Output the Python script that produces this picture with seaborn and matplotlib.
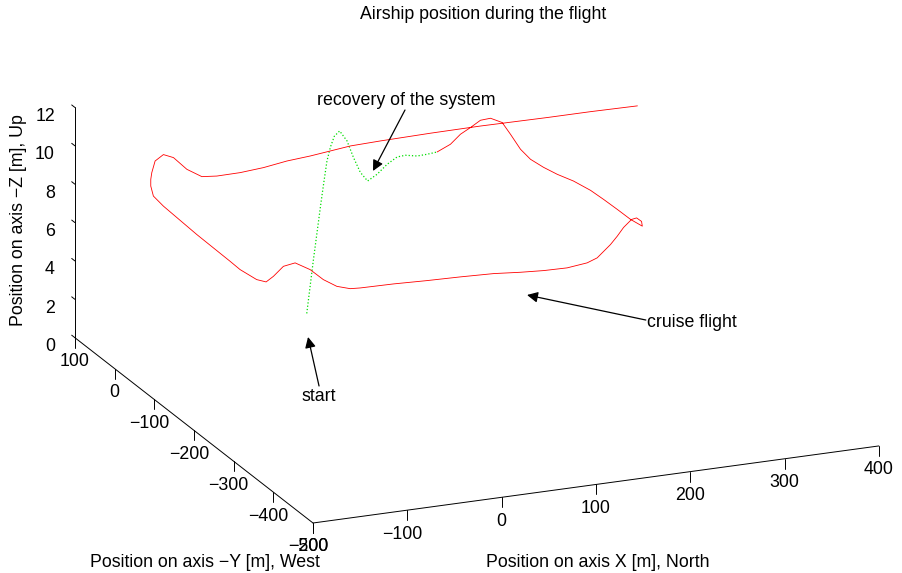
import numpy as np
import matplotlib
matplotlib.use("Agg")
import matplotlib.pyplot as plt
import seaborn as sns
from mpl_toolkits.mplot3d import proj3d

###############################################################################
### Trajectory: x North [m], y [m], z up [m]
# start + recovery of the system (green)
green_x = [4.0, 8.6, 16.7, 17.6, 21.0, 24.4, 28.5, 33.9, 40.1, 44.7,
           49.1, 54.5, 64.1, 73.7, 82.3, 89.5, 99.3, 108.0, 117.5]
green_y = [0.5, -5.0, -5.3, -9.5, -10.0, -10.5, -10.7, -11.3, -15.2, -20.3,
           -27.2, -32.8, -33.8, -36.4, -41.1, -44.8, -51.2, -55.5, -58.2]
green_z = [1.5, 4.3, 7.3, 8.3, 9.5, 10.2, 10.75, 11.0, 10.5, 9.7,
           9.0, 8.6, 8.9, 9.4, 9.8, 9.9, 9.9, 10.0, 10.1]

# cruise flight (red)
red_x = [117.5, 129.6, 139.1, 149.2, 157.8, 167.0, 177.0, 182.0, 187.0, 193.3,
         200.2, 206.7, 215.8, 222.6, 226.1, 229.1, 231.7, 236.7, 241.5, 241.1,
         234.8, 220.5, 206.9, 193.4, 168.1, 153.3, 129.4, 105.1, 82.1, 56.4,
         22.5, -11.9, -45.9, -80.7, -90.5, -102.1, -110.9, -117.9, -128.1, -138.2,
         -147.7, -154.1, -159.9, -163.3, -162.7, -161.7, -158.9, -158.5, -153.7, -152.6,
         -150.6, -143.0, -132.5, -124.7, -117.3, -107.8, -93.6, -68.6, -43.9, -19.6,
         5.1, 26.8, 48.4, 80.2, 133.3, 186.8, 258.0, 304.4, 354.4]
red_y = [-58.2, -63.1, -65.7, -66.9, -71.7, -75.2, -80.8, -89.8, -103.2, -113.4,
         -129.8, -149.0, -168.4, -195.1, -219.6, -247.1, -274.4, -292.0, -278.7, -267.2,
         -269.5, -283.3, -299.7, -314.8, -341.3, -351.3, -357.6, -356.3, -352.2, -345.8,
         -342.4, -340.1, -336.7, -335.3, -333.5, -327.4, -314.4, -297.7, -284.1, -278.6,
         -276.0, -272.8, -262.9, -229.0, -202.3, -116.1, -25.3, 0.8, 18.8, 21.4,
         23.6, 33.3, 37.3, 30.5, 14.3, -0.9, -4.9, -4.2, -4.4, -5.6,
         -5.8, -4.8, -3.8, -3.9, -4.0, -3.0, -2.0, -1.0, 0.0]
red_z = [10.1, 10.5, 11.0, 11.3, 11.7, 11.8, 11.6, 11.1, 10.5, 10.1,
         9.9, 9.8, 9.7, 9.6, 9.5, 9.4, 9.3, 9.2, 9.2, 9.2,
         9.2, 9.1, 9.0, 8.9, 8.8, 8.8, 8.8, 8.8, 8.8, 8.8,
         8.8, 8.8, 8.8, 8.8, 8.8, 8.9, 9.1, 9.4, 9.6, 9.4,
         8.9, 8.6, 8.6, 8.6, 8.6, 8.6, 8.6, 8.7, 8.9, 9.2,
         9.5, 9.9, 10.1, 10.0, 9.6, 9.4, 9.4, 9.4, 9.5, 9.7,
         9.8, 9.9, 10.0, 10.05, 10.1, 10.1, 10.05, 10.03, 9.98]

x_ticks = [-200, -100, 0, 100, 200, 300, 400]
y_ticks = [-500, -400, -300, -200, -100, 0, 100]
z_ticks = [0, 2, 4, 6, 8, 10, 12]
X_LIM, Y_LIM, Z_LIM = (-200, 400), (-500, 100), (0, 12)

###############################################################################
### Style
sns.set_theme(style="ticks", rc={"axes.edgecolor": "black", "text.color": "black",
                                 "xtick.color": "black", "ytick.color": "black"})
plt.rcParams["font.family"] = ["Liberation Sans", "DejaVu Sans"]
FS = 12.8

W, H = 902, 573
fig = plt.figure(figsize=(W / 100, H / 100), dpi=100)
fig.patch.set_facecolor("white")


def square_rect(cx, cy, side):
    return [(cx - side / 2) / W, (cy - side / 2) / H, side / W, side / H]


ax = fig.add_axes(square_rect(476, 296, 700), projection="3d", proj_type="ortho")
ax.view_init(elev=19, azim=-112.7)
ax.set_box_aspect((1, 1.006, 0.397))
ax.set_facecolor("white")
ax.grid(False)

ax.plot(green_x, green_y, green_z, color="#00dd00", ls=":", lw=0.9)
ax.plot(red_x, red_y, red_z, color="red", lw=0.6)

# MATLAB-like tick marks: x and y ticks hang down, z ticks point back
for v in x_ticks:
    ax.plot([v, v], [Y_LIM[0]] * 2, [Z_LIM[0], Z_LIM[0] - 0.52], color="black", lw=0.7)
for v in y_ticks:
    ax.plot([X_LIM[0]] * 2, [v, v], [Z_LIM[0], Z_LIM[0] - 0.52], color="black", lw=0.7)
for v in z_ticks:
    ax.plot([X_LIM[0]] * 2, [Y_LIM[1], Y_LIM[1] + 8], [v, v], color="black", lw=0.7)

ax.set_xlim(*X_LIM)
ax.set_ylim(*Y_LIM)
ax.set_zlim(*Z_LIM)
ax.set_xticks(x_ticks)
ax.set_yticks(y_ticks)
ax.set_zticks(z_ticks)
for axis in (ax.xaxis, ax.yaxis, ax.zaxis):
    axis.pane.set_visible(False)
    axis.line.set_color("black")
    axis.line.set_linewidth(0.7)
    axis._axinfo["tick"]["inward_factor"] = 0.0
    axis._axinfo["tick"]["outward_factor"] = 0.0
    axis.set_major_formatter(plt.NullFormatter())

### Fit the projected box onto the reference frame
fig.canvas.draw()


def to_px(x, y, z):
    X, Y, _ = proj3d.proj_transform(x, y, z, ax.get_proj())
    return np.array(ax.transData.transform((X, Y)))


pa, pb = to_px(X_LIM[0], Y_LIM[0], 0), to_px(X_LIM[1], Y_LIM[0], 0)
ta, tb = np.array([313, H - 523]), np.array([879, H - 447])
s = np.linalg.norm(tb - ta) / np.linalg.norm(pb - pa)
bb = ax.get_position().transformed(fig.transFigure)
c = np.array([(bb.x0 + bb.x1) / 2, (bb.y0 + bb.y1) / 2])
c_new = ta - s * (pa - c)
ax.set_position(square_rect(c_new[0], c_new[1], bb.width * s))


### Tick labels
def lab(v):
    return str(v).replace("-", "\u2212")


for v in x_ticks:
    p = to_px(v, Y_LIM[0], Z_LIM[0])
    dx = -5 if v < 0 else 0
    fig.text((p[0] + dx) / W, (p[1] - 24) / H, lab(v), ha="center", va="center", fontsize=FS)
for v in y_ticks:
    p = to_px(X_LIM[0], v, Z_LIM[0])
    dx = -5 if v < 0 else 0
    fig.text((p[0] + dx) / W, (p[1] - 24) / H, lab(v), ha="center", va="center", fontsize=FS)
for v in z_ticks:
    p = to_px(X_LIM[0], Y_LIM[1], v)
    fig.text((p[0] - 20) / W, (p[1] - 9) / H, lab(v), ha="right", va="center", fontsize=FS)

### Texts and annotations
fig.text(0.5355, 0.974, "Airship position during the flight", ha="center", va="center", fontsize=FS)
fig.text(0.6624, 0.019, "Position on axis X [m], North", ha="center", va="center", fontsize=FS)
fig.text(0.2273, 0.019, "Position on axis \u2212Y [m], West", ha="center", va="center", fontsize=FS)
fig.text(0.020, 0.616, "Position on axis \u2212Z [m], Up", ha="center", va="center",
         rotation=90, fontsize=FS)

arrow = dict(arrowstyle="-|>", color="black", lw=0.9, mutation_scale=16, shrinkA=0, shrinkB=0)
fig.text(0.450, 0.825, "recovery of the system", ha="center", va="center", fontsize=FS)
ax.annotate("", xy=(0.4135, 0.7016), xytext=(0.449, 0.808),
            xycoords="figure fraction", arrowprops=arrow)
fig.text(0.3537, 0.3072, "start", ha="center", va="center", fontsize=FS)
ax.annotate("", xy=(0.3415, 0.4119), xytext=(0.3537, 0.3264),
            xycoords="figure fraction", arrowprops=arrow)
fig.text(0.7173, 0.438, "cruise flight", ha="left", va="center", fontsize=FS)
ax.annotate("", xy=(0.5843, 0.4852), xytext=(0.716, 0.4415),
            xycoords="figure fraction", arrowprops=arrow)

fig.savefig("out.png", dpi=100, facecolor="white")
